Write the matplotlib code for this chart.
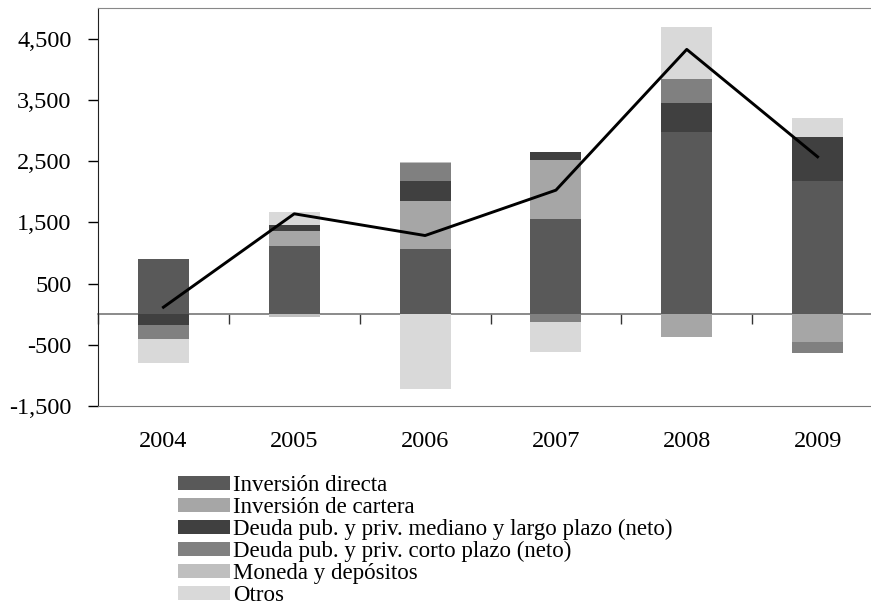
import numpy as np
import matplotlib
matplotlib.use('Agg')
from matplotlib import pyplot as plt

plt.rcParams['font.family'] = ['Liberation Serif', 'DejaVu Serif']

# datos (millones de US$)
years = ['2004', '2005', '2006', '2007', '2008', '2009']
inversion_directa = [900, 1110, 1072, 1557, 2972, 2172]
inversion_cartera = [0, 256, 784, 953, -377, -459]
deuda_largo = [-170, 82, 324, 136, 481, 719]
deuda_corto = [-230, 0, 286, -121, 380, -173]
moneda_depositos = [0, -40, 25, 0, 0, 0]
otros = [-395, 223, -1216, -495, 861, 305]
total = [113, 1639, 1284, 2025, 4324, 2570]

series = [
    ('Inversión directa', inversion_directa, '#595959'),
    ('Inversión de cartera', inversion_cartera, '#a6a6a6'),
    ('Deuda pub. y priv. mediano y largo plazo (neto)', deuda_largo, '#404040'),
    ('Deuda pub. y priv. corto plazo (neto)', deuda_corto, '#808080'),
    ('Moneda y depósitos', moneda_depositos, '#bfbfbf'),
    ('Otros', otros, '#d9d9d9'),
]

fig = plt.figure(figsize=(8.71, 6.07), dpi=100)
ax = fig.add_axes([98/871, 201/607, 785/871, 398/607])

x = np.arange(len(years))
pos = np.zeros(len(years))
neg = np.zeros(len(years))
for name, vals, col in series:
    v = np.array(vals, dtype=float)
    bottom = np.where(v >= 0, pos, neg)
    ax.bar(x, v, width=0.39, bottom=bottom, color=col, label=name, zorder=2)
    pos = pos + np.clip(v, 0, None)
    neg = neg + np.clip(v, None, 0)

ax.plot(x, total, color='black', lw=2.1, zorder=3)

ax.set_xlim(-0.5, 5.5)
ax.set_ylim(-1500, 5000)
ax.set_yticks(np.arange(-1500, 5000, 1000))
ax.yaxis.set_major_formatter(matplotlib.ticker.FuncFormatter(lambda v, p: f'{int(v):,}'))
ax.tick_params(axis='y', length=7, width=1, pad=12, labelsize=17.5, direction='out')
ax.set_xticks(x)
ax.set_xticklabels(years)
ax.tick_params(axis='x', length=0, pad=18, labelsize=17.5)

ax.spines['left'].set_color('#222222')
ax.spines['top'].set_color('#888888')
ax.spines['bottom'].set_color('#777777')
ax.spines['right'].set_visible(False)

# eje en cero con marcas entre categorias
zero_frac = 1500 / 6500
sec = ax.secondary_xaxis(zero_frac)
sec.set_xticks(np.arange(-0.5, 6, 1))
sec.set_xticklabels([])
sec.tick_params(length=7, width=1, direction='out', color='#333333')
sec.spines['bottom'].set_color('#777777')
sec.spines['bottom'].set_linewidth(1.2)

fig.legend(loc='upper left', bbox_to_anchor=(178/871, 1 - 475/607), frameon=False,
           fontsize=16.5, handlelength=2.25, handleheight=0.53, handletextpad=0.14,
           labelspacing=0.04, borderpad=0, borderaxespad=0)

fig.savefig('out.png', dpi=100)
